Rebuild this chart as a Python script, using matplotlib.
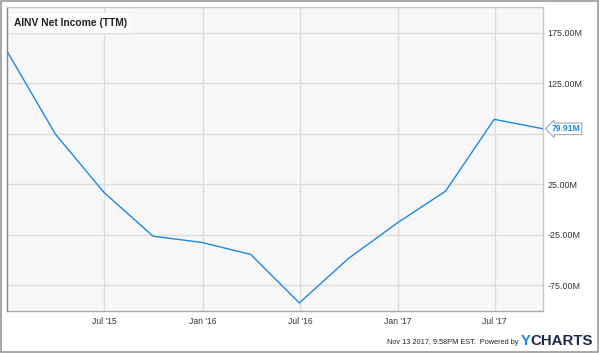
import numpy as np
import pandas as pd
import matplotlib
matplotlib.use("Agg")
import matplotlib.pyplot as plt
from matplotlib.patches import Rectangle

# quarterly TTM net income, millions
dates = pd.to_datetime([
    "2014-12-31", "2015-03-31", "2015-06-30", "2015-09-30",
    "2015-12-31", "2016-03-31", "2016-06-30", "2016-09-30",
    "2016-12-31", "2017-03-31", "2017-06-30", "2017-09-30",
])
net_income = [156.2, 74.7, 17.0, -26.3, -32.5, -44.4, -92.3, -48.3, -13.0, 18.3, 89.3, 79.91]

tick_dates = pd.to_datetime(["2015-07-01", "2016-01-01", "2016-07-01", "2017-01-01", "2017-07-01"])
tick_labels = ["Jul '15", "Jan '16", "Jul '16", "Jan '17", "Jul '17"]
y_ticks = [175, 125, 75, 25, -25, -75]

line_col = "#1e88e5"

plt.rcParams['font.family'] = ['Liberation Sans', 'DejaVu Sans']

fig = plt.figure(figsize=(6.0, 3.53), dpi=100)
ax = fig.add_axes([0.0122, 0.1198, 0.8933, 0.8592])
ax.set_facecolor("#f7f7f7")

ax.plot(dates, net_income, color=line_col, lw=1.0, zorder=3)

ax.set_xlim(dates[0], dates[-1])
ax.set_ylim(-100, 200)
ax.set_xticks(tick_dates)
ax.set_xticklabels(tick_labels)
ax.set_yticks(y_ticks)
# the 75.00M label sits under the last-value flag in the original
ax.set_yticklabels(["" if v == 75 else "%.2fM" % v for v in y_ticks])
ax.yaxis.tick_right()
ax.tick_params(axis='both', length=0, colors="#333333")
ax.tick_params(axis='y', pad=3, labelsize=6.4)
ax.tick_params(axis='x', pad=4.5, labelsize=6.2)
ax.grid(True, color="#dddddd", lw=1.0)
ax.set_axisbelow(True)

for side in ["top", "right"]:
    ax.spines[side].set_color("#c8c8c8")
ax.spines["left"].set_color("#888888")
ax.spines["bottom"].set_color("#aaaaaa")
for s in ax.spines.values():
    s.set_linewidth(1.0)

# title box
ax.text(0.013, 0.965, "AINV Net Income (TTM)", transform=ax.transAxes,
        fontsize=7.4, fontweight='bold', color="#222222", va='top', ha='left',
        bbox=dict(boxstyle="square,pad=0.45", fc="#fbfbfb", ec="none"), zorder=5)

# last value label
last = net_income[-1]
ax.annotate("%.2fM" % last, xy=(1.0, last), xycoords=('axes fraction', 'data'),
            xytext=(6, 0), textcoords='offset points', va='center', ha='left',
            fontsize=6.2, fontweight='bold', color=line_col,
            bbox=dict(boxstyle="larrow,pad=0.15", fc="white", ec="#9aa7b5", lw=0.8),
            annotation_clip=False, zorder=6)

# footer
fig.text(0.864, 0.031, "Nov 13 2017, 9:58PM EST.  Powered by", fontsize=5.3,
         color="#222222", ha='right', va='center')
fig.text(0.868, 0.034, "Y", fontsize=10.8, fontweight='bold', color="#1e88e5",
         ha='left', va='center')
fig.text(0.884, 0.034, "CHARTS", fontsize=10.8, fontweight='bold', color="#1b2a4a",
         ha='left', va='center')

# outer border
fig.patches.append(Rectangle((0.002, 0.004), 0.994, 0.992, transform=fig.transFigure,
                             fill=False, ec="#999999", lw=1.2))

fig.savefig("out.png", dpi=100)
